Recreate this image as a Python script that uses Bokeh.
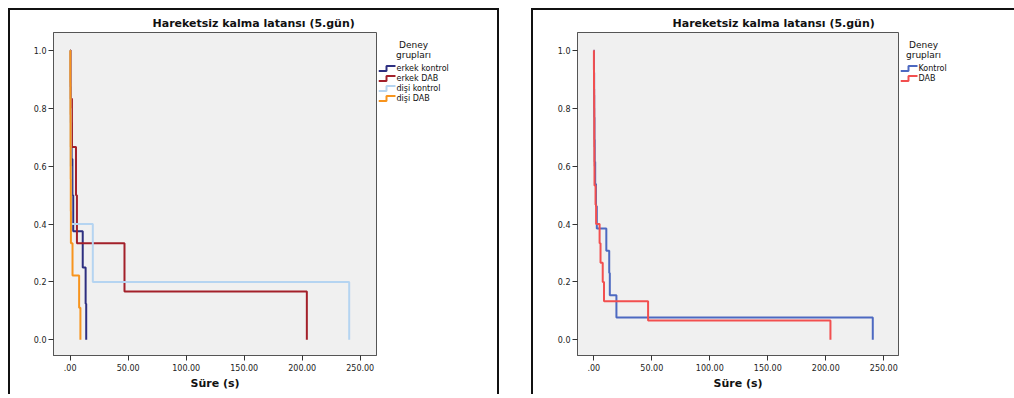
from bokeh.plotting import figure
from bokeh.models import Range1d, FixedTicker, Spacer
from bokeh.layouts import row, column
from bokeh.embed import file_html
from bokeh.resources import INLINE
from bokeh.core.properties import value

# ---------------- data ----------------
title_text = "Hareketsiz kalma latansı (5.gün)"
x_label = "Süre (s)"
legend_title = ["Deney", "grupları"]

x_ticks = [0.0, 50.0, 100.0, 150.0, 200.0, 250.0]
x_tick_labels = [".00", "50.00", "100.00", "150.00", "200.00", "250.00"]
y_ticks = [0.0, 0.2, 0.4, 0.6, 0.8, 1.0]
y_tick_labels = ["0.0", "0.2", "0.4", "0.6", "0.8", "1.0"]

# event times (s) per group
left_groups = ["erkek kontrol", "erkek DAB", "dişi kontrol", "dişi DAB"]
erkek_kontrol_times = [0.3, 0.6, 1.2, 1.9, 2.6, 10.8, 13.3, 13.8]
erkek_dab_times = [0.4, 1.5, 5.0, 5.8, 46.8, 204.0]
disi_kontrol_times = [0.2, 0.4, 0.8, 19.5, 240.5]
disi_dab_times = [0.1, 0.2, 0.3, 0.4, 0.5, 0.6, 2.0, 7.7, 8.8]
left_colors = ["#2d2f80", "#a3202a", "#b5d4f1", "#f7941d"]

right_groups = ["Kontrol", "DAB"]
kontrol_times = erkek_kontrol_times + disi_kontrol_times
dab_times = erkek_dab_times + disi_dab_times
right_colors = ["#4d69c1", "#f24f4f"]

FONT = "DejaVu Sans"
PPU_X = 1.16      # px per second
PPU_Y = 289.3     # px per unit survival
HEIGHT = 386
MB_TOP = 22
FRAME_H = 323
MB_BOTTOM = HEIGHT - MB_TOP - FRAME_H
FRAME_TOP_PAGE = 8 + 2 + MB_TOP          # 32
FRAME_BOTTOM_PAGE = FRAME_TOP_PAGE + FRAME_H
BORDER = "2px solid #111111"


def km_steps(times):
    t = sorted(times)
    n = len(t)
    xs, ys = [0.0], [1.0]
    for k, ti in enumerate(t):
        xs += [ti, ti]
        ys += [(n - k) / n, (n - k - 1) / n]
    return xs, ys


def style_title(p, text, offset):
    p.title.text = text
    p.title.align = "left"
    p.title.offset = offset
    p.title.standoff = 6
    p.title.text_font = FONT
    p.title.text_font_style = "bold"
    p.title.text_font_size = "11px"
    p.title.text_color = "#111111"


def make_main(width, mb_left, frame_w, x_start, series, colors, title_offset):
    y_start = -0.0543
    y_end = y_start + FRAME_H / PPU_Y
    x_end = x_start + frame_w / PPU_X
    p = figure(width=width, height=HEIGHT, output_backend="svg",
               toolbar_location=None,
               x_range=Range1d(x_start, x_end), y_range=Range1d(y_start, y_end),
               min_border_left=mb_left, min_border_right=width - mb_left - frame_w,
               min_border_top=MB_TOP, min_border_bottom=MB_BOTTOM,
               styles={"border-top": BORDER, "border-left": BORDER})
    p.background_fill_color = "#f0f0f0"
    p.border_fill_color = "white"
    p.outline_line_color = "#555555"
    p.outline_line_width = 1
    p.grid.visible = False
    style_title(p, title_text, title_offset)

    for ax in (p.xaxis, p.yaxis):
        ax.axis_line_color = "#555555"
        ax.major_tick_line_color = "#333333"
        ax.major_tick_out = 5
        ax.major_tick_in = 0
        ax.minor_tick_line_color = None
        ax.major_label_text_font = FONT
        ax.major_label_text_font_size = "8px"
        ax.major_label_text_color = "#222222"
    p.xaxis.ticker = FixedTicker(ticks=x_ticks)
    p.xaxis.major_label_overrides = dict(zip(x_ticks, x_tick_labels))
    p.yaxis.ticker = FixedTicker(ticks=y_ticks)
    p.yaxis.major_label_overrides = dict(zip(y_ticks, y_tick_labels))
    p.xaxis.major_label_standoff = 3
    p.yaxis.major_label_standoff = 2
    p.xaxis.axis_label = x_label
    p.xaxis.axis_label_text_font = FONT
    p.xaxis.axis_label_text_font_style = "bold"
    p.xaxis.axis_label_text_font_size = "11px"
    p.xaxis.axis_label_text_color = "#111111"
    p.xaxis.axis_label_standoff = 3

    for (xs, ys), c in zip(series, colors):
        p.line(xs, ys, line_color=c, line_width=2)
    return p


def make_legend(x0, width, names, colors, glyph_x0, label_x, title_cx, borders):
    # frame covers the same vertical band as the plot frame; coordinates = page px
    lp = figure(width=width, height=HEIGHT, output_backend="svg",
                toolbar_location=None,
                x_range=Range1d(x0, x0 + width),
                y_range=Range1d(FRAME_BOTTOM_PAGE, FRAME_TOP_PAGE),
                x_axis_location=None, y_axis_location=None,
                min_border_left=0, min_border_right=0,
                min_border_top=MB_TOP, min_border_bottom=MB_BOTTOM,
                styles={b: BORDER for b in borders})
    style_title(lp, "", 0)
    lp.outline_line_color = None
    lp.background_fill_color = "white"
    lp.border_fill_color = "white"
    lp.grid.visible = False

    lp.text(x=[title_cx] * len(legend_title), y=[44, 54], text=legend_title,
            text_align="center", text_baseline="middle",
            text_font=value(FONT), text_font_size="9px", text_color="#111111")
    ys = [68 + 10 * i for i in range(len(names))]
    for yc, c in zip(ys, colors):
        lp.line([glyph_x0, glyph_x0 + 8, glyph_x0 + 8, glyph_x0 + 17],
                [yc + 2.5, yc + 2.5, yc - 2.5, yc - 2.5],
                line_color=c, line_width=2)
    lp.text(x=[label_x] * len(names), y=ys, text=names,
            text_align="left", text_baseline="middle",
            text_font=value(FONT), text_font_size="8px", text_color="#111111")
    return lp


left_series = [km_steps(t) for t in
               (erkek_kontrol_times, erkek_dab_times, disi_kontrol_times, disi_dab_times)]
right_series = [km_steps(t) for t in (kontrol_times, dab_times)]

# left panel: host 8..378 (main) + 378..499 (legend)
p1 = make_main(370, 43, 323, -14.4, left_series, left_colors, title_offset=99)
l1 = make_legend(378, 121, left_groups, left_colors, glyph_x0=378, label_x=396,
                 title_cx=413, borders=["border-top", "border-right"])
# right panel: host 531..900 (main) + 900..1014 (legend)
p2 = make_main(369, 44, 321, -14.05, right_series, right_colors, title_offset=95)
l2 = make_legend(900, 114, right_groups, right_colors, glyph_x0=900, label_x=918,
                 title_cx=923, borders=["border-top"])

layout = column(Spacer(height=8),
                row(Spacer(width=8), p1, l1, Spacer(width=32), p2, l2))
open("out.html", "w").write(file_html(layout, INLINE))
